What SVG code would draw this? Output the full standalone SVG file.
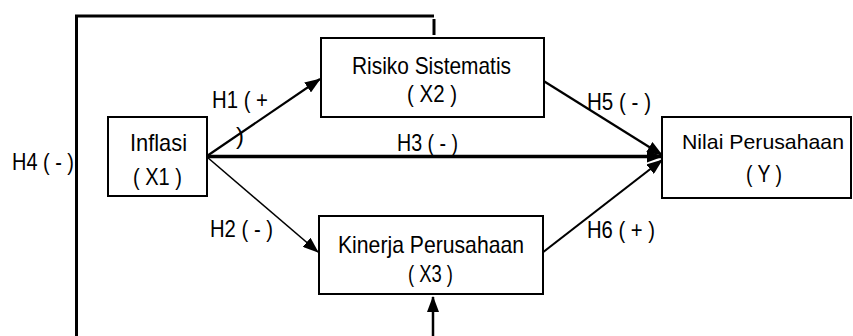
<svg xmlns="http://www.w3.org/2000/svg" width="853" height="336" viewBox="0 0 853 336">
<style>
.box{fill:#fff;stroke:#000;stroke-width:2}
.t{font-family:"Liberation Sans",Arial,sans-serif;font-size:24px;fill:#000}
.ln{fill:none;stroke:#000}
</style>
<defs>
<marker id="ah" markerUnits="userSpaceOnUse" markerWidth="16" markerHeight="12" refX="15" refY="6" orient="auto">
<path d="M0,0 L16,6 L0,12 Z" fill="#000"/>
</marker>
</defs>
<rect width="853" height="336" fill="#fff"/>
<g id="connectors">
<polyline class="ln" points="76.5,336 76.5,16 434,16" stroke-width="3"/>
<line class="ln" x1="434" y1="19" x2="434" y2="35" stroke-width="3"/>
<line class="ln" x1="433" y1="336" x2="433" y2="297" stroke-width="2.5" marker-end="url(#ah)"/>
<line class="ln" x1="207" y1="156" x2="320" y2="79" stroke-width="2.2" marker-end="url(#ah)"/>
<line class="ln" x1="207" y1="157" x2="318" y2="252" stroke-width="1.6" marker-end="url(#ah)"/>
<line class="ln" x1="207" y1="156.5" x2="662" y2="156.5" stroke-width="3.5" marker-end="url(#ah)"/>
<line class="ln" x1="542" y1="80" x2="662" y2="155" stroke-width="2.2" marker-end="url(#ah)"/>
<line class="ln" x1="542" y1="253" x2="662" y2="160" stroke-width="2.2" marker-end="url(#ah)"/>
</g>
<g id="X1">
<rect class="box" x="108" y="117" width="99" height="79"/>
<text class="t" x="130" y="151" textLength="57" lengthAdjust="spacingAndGlyphs">Inflasi</text>
<text class="t" x="133" y="185" textLength="49" lengthAdjust="spacingAndGlyphs">( X1 )</text>
</g>
<g id="X2">
<rect class="box" x="321" y="38" width="223" height="79"/>
<text class="t" x="352" y="74" textLength="159" lengthAdjust="spacingAndGlyphs">Risiko Sistematis</text>
<text class="t" x="407" y="102" textLength="50" lengthAdjust="spacingAndGlyphs">( X2 )</text>
</g>
<g id="X3">
<rect class="box" x="319" y="216" width="224" height="78"/>
<text class="t" x="338" y="253" textLength="186" lengthAdjust="spacingAndGlyphs">Kinerja Perusahaan</text>
<text class="t" x="408" y="282" textLength="45" lengthAdjust="spacingAndGlyphs">( X3 )</text>
</g>
<g id="Y">
<rect class="box" x="662" y="117" width="189" height="81"/>
<text class="t" x="682" y="149" font-size="21" style="font-size:21px" textLength="162" lengthAdjust="spacingAndGlyphs">Nilai Perusahaan</text>
<text class="t" x="746" y="182" textLength="36" lengthAdjust="spacingAndGlyphs">( Y )</text>
</g>
<g id="labels">
<text class="t" x="212" y="108" textLength="56" lengthAdjust="spacingAndGlyphs">H1 ( +</text>
<text class="t" x="236" y="144">)</text>
<text class="t" x="210" y="237" textLength="63" lengthAdjust="spacingAndGlyphs">H2 ( - )</text>
<text class="t" x="397" y="151" textLength="61" lengthAdjust="spacingAndGlyphs">H3 ( - )</text>
<text class="t" x="12" y="170" textLength="62" lengthAdjust="spacingAndGlyphs">H4 ( - )</text>
<text class="t" x="587" y="110" textLength="64" lengthAdjust="spacingAndGlyphs">H5 ( - )</text>
<text class="t" x="587" y="238" textLength="68" lengthAdjust="spacingAndGlyphs">H6 ( + )</text>
</g>
</svg>
